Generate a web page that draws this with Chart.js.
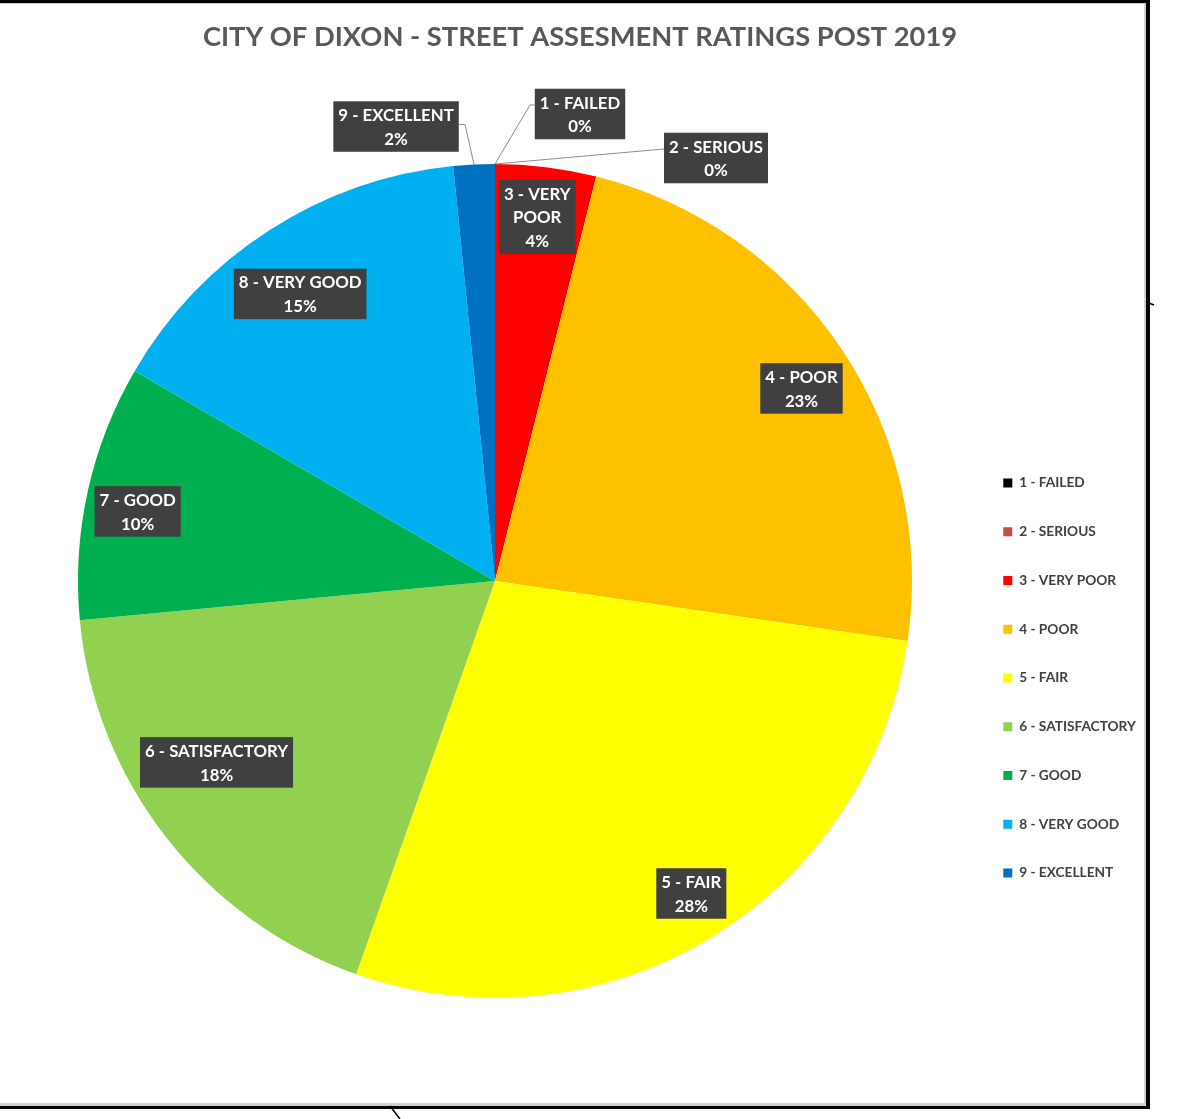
<!DOCTYPE html>
<html>
<head>
<meta charset="utf-8">
<title>City of Dixon - Street Assesment Ratings Post 2019</title>
<script src="https://cdn.jsdelivr.net/npm/chart.js@4.4.1/dist/chart.umd.min.js"></script>
<style>
  html, body { margin: 0; padding: 0; background: #fff; }
  canvas { display: block; }
</style>
</head>
<body>
<canvas id="ratingsChart" width="1177" height="1119"></canvas>
<script>
var categories = ['1 - FAILED', '2 - SERIOUS', '3 - VERY POOR', '4 - POOR', '5 - FAIR',
	'6 - SATISFACTORY', '7 - GOOD', '8 - VERY GOOD', '9 - EXCELLENT'];
var shares = [0, 0, 3.9, 23.4, 28.1, 18.1, 9.9, 15.0, 1.6];
var sliceColors = ['#000000', '#C0504D', '#FF0000', '#FFC000', '#FFFF00',
	'#92D050', '#00B050', '#00B0F0', '#0070C0'];

// where excel put the data labels: fraction of radius + angle nudge (deg)
var insideLabels = {
	2: {r: 0.879, da: -0.4},
	3: {r: 0.868, da: 1.7},
	4: {r: 0.885, da: -1.0},
	5: {r: 0.797, da: 4.9},
	6: {r: 0.873, da: -1.4},
	7: {r: 0.832, da: -1.4}
};
var callouts = {
	0: {dx: 85, dy: -50, ex: 35, ey: -59},
	1: {dx: 221, dy: -6, ex: 169, ey: -15},
	8: {dx: -78, dy: -38, ex: -9, ey: -40}
};
var wrapped = {2: ['3 - VERY', 'POOR']};

var FONT = 'Lato, "Open Sans", sans-serif';

function drawBox(ctx, lines, cx, cy) {
	var padX = 5, padY = 1.5, lineH = 23.75;
	ctx.font = 'bold 16.8px ' + FONT;
	var w = 0;
	lines.forEach(function(t) { w = Math.max(w, ctx.measureText(t).width); });
	w += padX * 2;
	var h = lines.length * lineH + padY * 2;
	var left = cx - w / 2, top = cy - h / 2;
	ctx.fillStyle = '#404040';
	ctx.fillRect(left, top, w, h);
	ctx.fillStyle = '#ffffff';
	ctx.textAlign = 'center';
	ctx.textBaseline = 'middle';
	lines.forEach(function(t, k) {
		ctx.fillText(t, cx, top + padY + lineH * (k + 0.5) + 1);
	});
	return {left: left, right: left + w, top: top, bottom: top + h};
}

var dataLabels = {
	id: 'dataLabels',
	afterDatasetsDraw: function(chart) {
		var ctx = chart.ctx,
			meta = chart.getDatasetMeta(0),
			total = shares.reduce(function(a, b) { return a + b; }, 0);

		ctx.save();
		meta.data.forEach(function(arc, i) {
			var p = arc.getProps(['x', 'y', 'startAngle', 'endAngle', 'outerRadius'], true),
				mid = (p.startAngle + p.endAngle) / 2,
				pct = Math.round(shares[i] / total * 100) + '%',
				lines = (wrapped[i] || [categories[i]]).concat([pct]);

			var inside = insideLabels[i];
			if (inside) {
				var r = p.outerRadius * inside.r,
					a = mid + inside.da * Math.PI / 180;
				drawBox(ctx, lines, p.x + Math.cos(a) * r, p.y + Math.sin(a) * r);
				return;
			}

			var c = callouts[i],
				ax = p.x + Math.cos(mid) * p.outerRadius,
				ay = p.y + Math.sin(mid) * p.outerRadius,
				box = drawBox(ctx, lines, ax + c.dx, ay + c.dy),
				edge = c.dx > 0 ? box.left : box.right;

			ctx.strokeStyle = '#8c8c8c';
			ctx.lineWidth = 1;
			ctx.beginPath();
			ctx.moveTo(ax, ay);
			ctx.lineTo(ax + c.ex, ay + c.ey);
			ctx.lineTo(edge, ay + c.ey);
			ctx.stroke();
		});
		ctx.restore();
	}
};

// the black sheet border round the chart
var frame = {
	id: 'frame',
	afterDraw: function(chart) {
		var ctx = chart.ctx;
		ctx.save();
		ctx.fillStyle = '#d0d0d0';
		ctx.fillRect(0, 1103, 1146, 3);
		ctx.fillRect(1144, 3, 2, 1101);
		ctx.fillRect(0, 3, 1146, 1);
		ctx.fillStyle = '#000000';
		ctx.fillRect(0, 0, 1150, 3);
		ctx.fillRect(1146, 0, 4, 1109);
		ctx.fillRect(0, 1106, 1150, 3);
		ctx.strokeStyle = '#000';
		ctx.lineWidth = 1.5;
		ctx.beginPath();
		ctx.moveTo(390, 1106); ctx.lineTo(400, 1119);
		ctx.moveTo(1146, 302); ctx.lineTo(1154, 305);
		ctx.stroke();
		ctx.restore();
	}
};

var chart = new Chart(document.getElementById('ratingsChart'), {
	type: 'pie',
	data: {
		labels: categories,
		datasets: [{
			data: shares,
			backgroundColor: sliceColors,
			borderWidth: 0,
			clip: false
		}]
	},
	options: {
		responsive: false,
		animation: false,
		layout: {
			padding: {left: 21.75, right: 38.75, top: 0, bottom: 121}
		},
		plugins: {
			title: {
				display: true,
				text: 'CITY OF DIXON - STREET ASSESMENT RATINGS POST 2019',
				color: '#595959',
				font: {family: FONT, size: 27.3, weight: 'bold', lineHeight: 1.2},
				padding: {top: 21, bottom: 110.24}
			},
			legend: {
				position: 'right',
				align: 'start',
				fullSize: false,
				maxWidth: 170,
				title: {
					display: true,
					text: ' ',
					font: {size: 10, lineHeight: 1},
					padding: {top: 0, bottom: 267.1}
				},
				labels: {
					boxWidth: 9,
					boxHeight: 9,
					padding: 35.05,
					color: '#404040',
					font: {family: FONT, size: 13.7, weight: 'bold'}
				}
			},
			tooltip: {enabled: false}
		}
	},
	plugins: [dataLabels, frame]
});
</script>
</body>
</html>
